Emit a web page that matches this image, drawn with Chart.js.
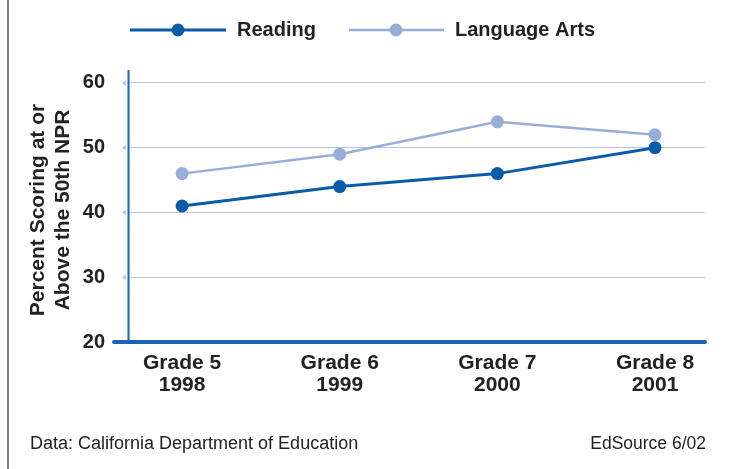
<!DOCTYPE html>
<html>
<head>
<meta charset="utf-8">
<script src="https://cdn.jsdelivr.net/npm/chart.js@4.4.1/dist/chart.umd.min.js"></script>
<style>
  html, body { margin: 0; padding: 0; background: #ffffff; }
  #wrap { width: 732px; height: 469px; position: relative; }
</style>
</head>
<body>
<div id="wrap"><canvas id="c" width="732" height="469"></canvas></div>
<script>
// ---- data ----
const grades = ["Grade 5", "Grade 6", "Grade 7", "Grade 8"];
const years = ["1998", "1999", "2000", "2001"];
const readingValues = [41, 44, 46, 50];
const languageArtsValues = [46, 49, 54, 52];
const yTickValues = [20, 30, 40, 50, 60];
const seriesNames = ["Reading", "Language Arts"];
const yTitleLines = ["Percent Scoring at or", "Above the 50th NPR"];
const sourceText = "Data: California Department of Education";
const creditText = "EdSource 6/02";

// ---- styles ----
const READ_COL = "#0b5ca8";
const LA_COL = "#98aed8";
const GRID_COL = "#b3c5e6";
const AXIS_COL = "#1c62ae";
const TEXT_COL = "#222222";
const FONT = "'Liberation Sans', Arial, sans-serif";

const decorPlugin = {
  id: "decor",
  beforeDatasetsDraw(chart) {
    const ctx = chart.ctx;
    const a = chart.chartArea;
    ctx.save();
    // y axis line
    ctx.strokeStyle = AXIS_COL;
    ctx.lineWidth = 2;
    ctx.beginPath();
    ctx.moveTo(a.left + 0.5, a.top);
    ctx.lineTo(a.left + 0.5, a.bottom);
    ctx.stroke();
    // x axis line (thick)
    ctx.lineWidth = 4;
    ctx.lineCap = "round";
    ctx.beginPath();
    ctx.moveTo(a.left - 14, a.bottom);
    ctx.lineTo(a.right, a.bottom);
    ctx.stroke();
    // small arrow markers at gridlines
    const ys = chart.scales.y;
    ctx.fillStyle = GRID_COL;
    yTickValues.forEach(v => {
      if (v === 20) return;
      const py = ys.getPixelForValue(v);
      ctx.beginPath();
      ctx.moveTo(a.left - 6, py);
      ctx.lineTo(a.left - 2, py - 3);
      ctx.lineTo(a.left - 2, py + 3);
      ctx.closePath();
      ctx.fill();
    });
    ctx.restore();
  },
  afterDraw(chart) {
    const ctx = chart.ctx;
    ctx.save();
    // left frame line
    ctx.strokeStyle = "#555555";
    ctx.lineWidth = 1.5;
    ctx.beginPath();
    ctx.moveTo(8, 0);
    ctx.lineTo(8, 469);
    ctx.stroke();

    // legend
    const items = [
      { name: seriesNames[0], col: READ_COL, x1: 130, x2: 226, dot: 178, tx: 237, lw: 3 },
      { name: seriesNames[1], col: LA_COL, x1: 349, x2: 444, dot: 396, tx: 455, lw: 2.5 }
    ];
    const ly = 30;
    items.forEach(it => {
      ctx.strokeStyle = it.col;
      ctx.lineWidth = it.lw;
      ctx.beginPath();
      ctx.moveTo(it.x1, ly);
      ctx.lineTo(it.x2, ly);
      ctx.stroke();
      ctx.fillStyle = it.col;
      ctx.beginPath();
      ctx.arc(it.dot, ly, 6.5, 0, Math.PI * 2);
      ctx.fill();
      ctx.fillStyle = TEXT_COL;
      ctx.font = "bold 20px " + FONT;
      ctx.textAlign = "left";
      ctx.textBaseline = "middle";
      ctx.fillText(it.name, it.tx, ly);
    });

    // y axis title (rotated, two lines)
    ctx.save();
    ctx.translate(38, 210);
    ctx.rotate(-Math.PI / 2);
    ctx.fillStyle = TEXT_COL;
    ctx.font = "bold 21px " + FONT;
    ctx.textAlign = "center";
    ctx.textBaseline = "middle";
    ctx.fillText(yTitleLines[0], 0, 0);
    ctx.fillText(yTitleLines[1], 0, 25);
    ctx.restore();

    // footer
    ctx.fillStyle = TEXT_COL;
    ctx.font = "18px " + FONT;
    ctx.textBaseline = "alphabetic";
    ctx.textAlign = "left";
    ctx.fillText(sourceText, 30, 449);
    ctx.textAlign = "right";
    ctx.font = "17.5px " + FONT;
    ctx.fillText(creditText, 706, 449);
    ctx.restore();
  }
};

new Chart(document.getElementById("c"), {
  type: "line",
  data: {
    datasets: [
      {
        label: seriesNames[0],
        data: readingValues.map((v, i) => ({ x: i, y: v })),
        borderColor: READ_COL,
        backgroundColor: READ_COL,
        pointBackgroundColor: READ_COL,
        pointBorderWidth: 0,
        pointRadius: 6.5,
        borderWidth: 3,
        tension: 0,
        fill: false
      },
      {
        label: seriesNames[1],
        data: languageArtsValues.map((v, i) => ({ x: i, y: v })),
        borderColor: LA_COL,
        backgroundColor: LA_COL,
        pointBackgroundColor: LA_COL,
        pointBorderWidth: 0,
        pointRadius: 6.5,
        borderWidth: 2.5,
        tension: 0,
        fill: false
      }
    ]
  },
  options: {
    responsive: false,
    animation: false,
    devicePixelRatio: 1,
    layout: { padding: { top: 70, right: 27, left: 0, bottom: 0 } },
    plugins: {
      legend: { display: false },
      tooltip: { enabled: false },
      title: { display: false }
    },
    scales: {
      x: {
        type: "linear",
        min: -0.343,
        max: 3.317,
        grid: { display: false, drawTicks: false },
        border: { display: false },
        afterBuildTicks: (s) => { s.ticks = grades.map((_, i) => ({ value: i })); },
        afterFit: (s) => { s.height = 127; },
        ticks: {
          autoSkip: false,
          maxRotation: 0,
          padding: 10,
          color: TEXT_COL,
          font: { family: FONT, size: 21, weight: "bold", lineHeight: 1.05 },
          callback: (v) => [grades[v], years[v]]
        }
      },
      y: {
        min: 20,
        max: 62,
        grid: { color: GRID_COL, lineWidth: 1, drawTicks: false },
        border: { display: false },
        afterBuildTicks: (s) => { s.ticks = yTickValues.map(v => ({ value: v })); },
        afterFit: (s) => { s.width = 128; },
        ticks: {
          padding: 23,
          color: TEXT_COL,
          font: { family: FONT, size: 20, weight: "bold" }
        }
      }
    }
  },
  plugins: [decorPlugin]
});
</script>
</body>
</html>
